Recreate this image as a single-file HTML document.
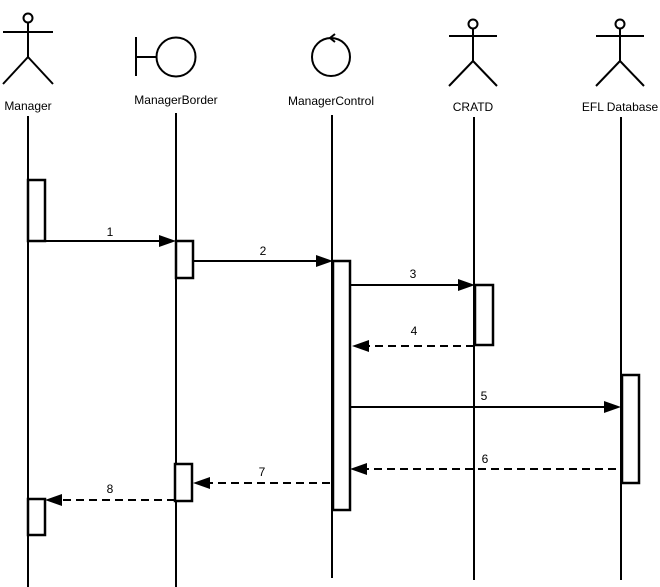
<!DOCTYPE html>
<html><head><style>html,body{margin:0;padding:0;background:#fff;width:660px;height:587px;overflow:hidden}
svg text{font-family:"Liberation Sans",sans-serif;font-size:12px}</style></head>
<body>
<svg width="660" height="587" xmlns="http://www.w3.org/2000/svg">
<rect width="660" height="587" fill="#fff"/>
<g stroke="#000" stroke-width="2" fill="none">
<circle cx="28" cy="18" r="4.5"/>
<line x1="3" y1="32" x2="53" y2="32"/><line x1="28" y1="22" x2="28" y2="57"/>
<line x1="28" y1="57" x2="3" y2="84"/><line x1="28" y1="57" x2="53" y2="84"/>
<line x1="136" y1="37" x2="136" y2="76"/><line x1="136" y1="57" x2="156" y2="57"/>
<circle cx="176" cy="57" r="19.5"/>
<circle cx="331" cy="57" r="19"/>
<polyline points="335,34 330,38 335,42"/>
<circle cx="473" cy="24" r="4.5"/>
<line x1="449" y1="36" x2="497" y2="36"/><line x1="473" y1="28" x2="473" y2="61"/>
<line x1="473" y1="61" x2="449" y2="86"/><line x1="473" y1="61" x2="497" y2="86"/>
<circle cx="620" cy="24" r="4.5"/>
<line x1="596" y1="36" x2="644" y2="36"/><line x1="620" y1="28" x2="620" y2="61"/>
<line x1="620" y1="61" x2="596" y2="86"/><line x1="620" y1="61" x2="644" y2="86"/>
<line x1="28" y1="116" x2="28" y2="587"/>
<line x1="176" y1="113" x2="176" y2="587"/>
<line x1="332" y1="115" x2="332" y2="578"/>
<line x1="474" y1="117" x2="474" y2="580"/>
<line x1="621" y1="117" x2="621" y2="580"/>
<g stroke-width="2.5">
<rect x="28" y="180" width="17" height="61" fill="#fff"/>
<rect x="28" y="499" width="17" height="36" fill="#fff"/>
<rect x="176" y="241" width="17" height="37" fill="#fff"/>
<rect x="175" y="464" width="17" height="37" fill="#fff"/>
<rect x="333" y="261" width="17" height="249" fill="#fff"/>
<rect x="475" y="285" width="18" height="60" fill="#fff"/>
<rect x="622" y="375" width="17" height="108" fill="#fff"/>
</g>
<line x1="45" y1="241" x2="160" y2="241"/>
<line x1="193" y1="261" x2="317" y2="261"/>
<line x1="350" y1="285" x2="459" y2="285"/>
<line x1="474" y1="346" x2="368" y2="346" stroke-dasharray="8,5"/>
<line x1="350" y1="407" x2="605" y2="407"/>
<line x1="616" y1="469" x2="366" y2="469" stroke-dasharray="8,5"/>
<line x1="330" y1="483" x2="209" y2="483" stroke-dasharray="8,5"/>
<line x1="175" y1="500" x2="61" y2="500" stroke-dasharray="8,5"/>
</g>
<g fill="#000">
<polygon points="176,241 159,235 159,247"/>
<polygon points="333,261 316,255 316,267"/>
<polygon points="475,285 458,279 458,291"/>
<polygon points="352,346 369,340 369,352"/>
<polygon points="621,407 604,401 604,413"/>
<polygon points="350,469 367,463 367,475"/>
<polygon points="193,483 210,477 210,489"/>
<polygon points="45,500 62,494 62,506"/>
</g>
<g fill="#000" text-anchor="middle">
<text x="28" y="110">Manager</text>
<text x="176" y="104">ManagerBorder</text>
<text x="331" y="105">ManagerControl</text>
<text x="473" y="111">CRATD</text>
<text x="620" y="111">EFL Database</text>
<text x="110" y="236">1</text>
<text x="263" y="255">2</text>
<text x="413" y="278">3</text>
<text x="414" y="335">4</text>
<text x="484" y="400">5</text>
<text x="485" y="463">6</text>
<text x="262" y="476">7</text>
<text x="110" y="493">8</text>
</g>
</svg>
</body></html>
